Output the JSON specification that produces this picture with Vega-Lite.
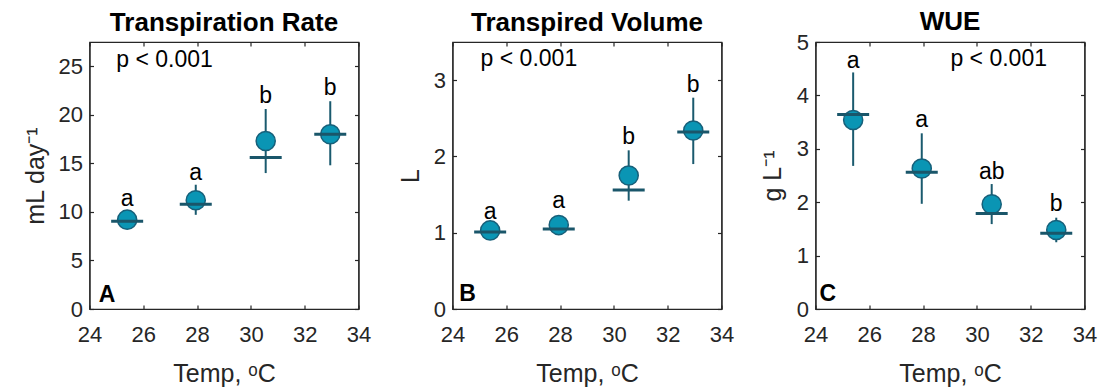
{
  "$schema": "https://vega.github.io/schema/vega-lite/v6.json",
  "background": "white",
  "padding": {"left": 21.5, "top": 8, "right": 0, "bottom": 0},
  "bounds": "flush",
  "spacing": 94,
  "datasets": {
    "pts": [
      {"panel": "A", "temp": 25.4, "mean": 9.2, "mid": 9.05, "lo": 8.4, "hi": 10.0, "letter": "a", "ly": 10.6},
      {"panel": "A", "temp": 27.95, "mean": 11.2, "mid": 10.8, "lo": 9.7, "hi": 12.8, "letter": "a", "ly": 13.3},
      {"panel": "A", "temp": 30.55, "mean": 17.3, "mid": 15.6, "lo": 14.0, "hi": 20.6, "letter": "b", "ly": 21.2},
      {"panel": "A", "temp": 32.95, "mean": 18.0, "mid": 18.0, "lo": 14.8, "hi": 21.4, "letter": "b", "ly": 22.0},
      {"panel": "B", "temp": 25.4, "mean": 1.03, "mid": 1.01, "lo": 0.92, "hi": 1.13, "letter": "a", "ly": 1.18},
      {"panel": "B", "temp": 27.95, "mean": 1.1, "mid": 1.05, "lo": 0.98, "hi": 1.22, "letter": "a", "ly": 1.33},
      {"panel": "B", "temp": 30.55, "mean": 1.75, "mid": 1.56, "lo": 1.42, "hi": 2.08, "letter": "b", "ly": 2.16},
      {"panel": "B", "temp": 32.95, "mean": 2.34, "mid": 2.32, "lo": 1.9, "hi": 2.77, "letter": "b", "ly": 2.85},
      {"panel": "C", "temp": 25.4, "mean": 3.54, "mid": 3.64, "lo": 2.68, "hi": 4.43, "letter": "a", "ly": 4.52},
      {"panel": "C", "temp": 27.95, "mean": 2.63, "mid": 2.56, "lo": 1.97, "hi": 3.29, "letter": "a", "ly": 3.4},
      {"panel": "C", "temp": 30.55, "mean": 1.96, "mid": 1.79, "lo": 1.59, "hi": 2.34, "letter": "ab", "ly": 2.44},
      {"panel": "C", "temp": 32.95, "mean": 1.48, "mid": 1.42, "lo": 1.25, "hi": 1.71, "letter": "b", "ly": 1.83}
    ],
    "notes": [
      {"panel": "A", "x": 26.79, "y": 24.9, "text": "p < 0.001", "kind": "p"},
      {"panel": "B", "x": 26.84, "y": 3.19, "text": "p < 0.001", "kind": "p"},
      {"panel": "C", "x": 30.81, "y": 4.556, "text": "p < 0.001", "kind": "p"},
      {"panel": "A", "x": 24.34, "y": 0.75, "text": "A", "kind": "panel"},
      {"panel": "B", "x": 24.25, "y": 0.105, "text": "B", "kind": "panel"},
      {"panel": "C", "x": 24.15, "y": 0.155, "text": "C", "kind": "panel"}
    ]
  },
  "hconcat": [
    {
      "width": 269, "height": 267,
      "title": {"text": "Transpiration Rate", "offset": 5.3},
      "data": {"name": "pts"},
      "transform": [{"filter": "datum.panel === 'A'"}],
      "resolve": {"axis": {"x": "independent", "y": "independent"}},
      "layer": [
        {
          "mark": {"type": "rule", "color": "#1a5a6e", "strokeWidth": 2},
          "encoding": {
            "x": {"field": "temp", "type": "quantitative", "scale": {"domain": [24, 34], "nice": false}, "axis": {"orient": "bottom", "values": [24, 26, 28, 30, 32, 34], "title": "Temp, ᵒC"}},
            "y": {"field": "lo", "type": "quantitative", "scale": {"domain": [0, 27.5], "nice": false}, "axis": {"orient": "left", "values": [0, 5, 10, 15, 20, 25], "title": "mL day⁻¹", "titleX": -46.5}},
            "y2": {"field": "hi"}
          }
        },
        {
          "mark": {"type": "point", "shape": "circle", "filled": true, "size": 365, "fill": "#0a95b4", "stroke": "#17607a", "strokeWidth": 1.5, "opacity": 1},
          "encoding": {
            "x": {"field": "temp", "type": "quantitative", "scale": {"domain": [24, 34], "nice": false}, "axis": {"orient": "top", "values": [24, 26, 28, 30, 32, 34], "labels": false, "title": null}},
            "y": {"field": "mean", "type": "quantitative", "scale": {"domain": [0, 27.5], "nice": false}, "axis": {"orient": "right", "values": [0, 5, 10, 15, 20, 25], "labels": false, "title": null}}
          }
        },
        {
          "mark": {"type": "tick", "orient": "horizontal", "size": 32, "thickness": 3, "color": "#1a566a", "opacity": 1},
          "encoding": {
            "x": {"field": "temp", "type": "quantitative", "scale": {"domain": [24, 34], "nice": false}, "axis": null},
            "y": {"field": "mid", "type": "quantitative", "scale": {"domain": [0, 27.5], "nice": false}, "axis": null}
          }
        },
        {
          "mark": {"type": "text", "fontSize": 23, "baseline": "alphabetic", "align": "center", "color": "#000000"},
          "encoding": {
            "x": {"field": "temp", "type": "quantitative", "scale": {"domain": [24, 34], "nice": false}, "axis": null},
            "y": {"field": "ly", "type": "quantitative", "scale": {"domain": [0, 27.5], "nice": false}, "axis": null},
            "text": {"field": "letter"}
          }
        },
        {
          "data": {"name": "notes"},
          "transform": [{"filter": "datum.panel === 'A' && datum.kind === 'p'"}],
          "mark": {"type": "text", "fontSize": 23, "baseline": "alphabetic", "align": "center", "color": "#000000"},
          "encoding": {
            "x": {"field": "x", "type": "quantitative", "scale": {"domain": [24, 34], "nice": false}, "axis": null},
            "y": {"field": "y", "type": "quantitative", "scale": {"domain": [0, 27.5], "nice": false}, "axis": null},
            "text": {"field": "text"}
          }
        },
        {
          "data": {"name": "notes"},
          "transform": [{"filter": "datum.panel === 'A' && datum.kind === 'panel'"}],
          "mark": {"type": "text", "fontSize": 23, "fontWeight": "bold", "baseline": "alphabetic", "align": "left", "color": "#000000"},
          "encoding": {
            "x": {"field": "x", "type": "quantitative", "scale": {"domain": [24, 34], "nice": false}, "axis": null},
            "y": {"field": "y", "type": "quantitative", "scale": {"domain": [0, 27.5], "nice": false}, "axis": null},
            "text": {"field": "text"}
          }
        }
      ]
    },
    {
      "width": 269, "height": 267,
      "title": {"text": "Transpired Volume", "offset": 5.3},
      "data": {"name": "pts"},
      "transform": [{"filter": "datum.panel === 'B'"}],
      "resolve": {"axis": {"x": "independent", "y": "independent"}},
      "layer": [
        {
          "mark": {"type": "rule", "color": "#1a5a6e", "strokeWidth": 2},
          "encoding": {
            "x": {"field": "temp", "type": "quantitative", "scale": {"domain": [24, 34], "nice": false}, "axis": {"orient": "bottom", "values": [24, 26, 28, 30, 32, 34], "title": "Temp, ᵒC"}},
            "y": {"field": "lo", "type": "quantitative", "scale": {"domain": [0, 3.5], "nice": false}, "axis": {"orient": "left", "values": [0, 1, 2, 3], "title": "L", "titleX": -34}},
            "y2": {"field": "hi"}
          }
        },
        {
          "mark": {"type": "point", "shape": "circle", "filled": true, "size": 365, "fill": "#0a95b4", "stroke": "#17607a", "strokeWidth": 1.5, "opacity": 1},
          "encoding": {
            "x": {"field": "temp", "type": "quantitative", "scale": {"domain": [24, 34], "nice": false}, "axis": {"orient": "top", "values": [24, 26, 28, 30, 32, 34], "labels": false, "title": null}},
            "y": {"field": "mean", "type": "quantitative", "scale": {"domain": [0, 3.5], "nice": false}, "axis": {"orient": "right", "values": [0, 1, 2, 3], "labels": false, "title": null}}
          }
        },
        {
          "mark": {"type": "tick", "orient": "horizontal", "size": 32, "thickness": 3, "color": "#1a566a", "opacity": 1},
          "encoding": {
            "x": {"field": "temp", "type": "quantitative", "scale": {"domain": [24, 34], "nice": false}, "axis": null},
            "y": {"field": "mid", "type": "quantitative", "scale": {"domain": [0, 3.5], "nice": false}, "axis": null}
          }
        },
        {
          "mark": {"type": "text", "fontSize": 23, "baseline": "alphabetic", "align": "center", "color": "#000000"},
          "encoding": {
            "x": {"field": "temp", "type": "quantitative", "scale": {"domain": [24, 34], "nice": false}, "axis": null},
            "y": {"field": "ly", "type": "quantitative", "scale": {"domain": [0, 3.5], "nice": false}, "axis": null},
            "text": {"field": "letter"}
          }
        },
        {
          "data": {"name": "notes"},
          "transform": [{"filter": "datum.panel === 'B' && datum.kind === 'p'"}],
          "mark": {"type": "text", "fontSize": 23, "baseline": "alphabetic", "align": "center", "color": "#000000"},
          "encoding": {
            "x": {"field": "x", "type": "quantitative", "scale": {"domain": [24, 34], "nice": false}, "axis": null},
            "y": {"field": "y", "type": "quantitative", "scale": {"domain": [0, 3.5], "nice": false}, "axis": null},
            "text": {"field": "text"}
          }
        },
        {
          "data": {"name": "notes"},
          "transform": [{"filter": "datum.panel === 'B' && datum.kind === 'panel'"}],
          "mark": {"type": "text", "fontSize": 23, "fontWeight": "bold", "baseline": "alphabetic", "align": "left", "color": "#000000"},
          "encoding": {
            "x": {"field": "x", "type": "quantitative", "scale": {"domain": [24, 34], "nice": false}, "axis": null},
            "y": {"field": "y", "type": "quantitative", "scale": {"domain": [0, 3.5], "nice": false}, "axis": null},
            "text": {"field": "text"}
          }
        }
      ]
    },
    {
      "width": 269, "height": 267,
      "title": {"text": "WUE", "offset": -3.7},
      "data": {"name": "pts"},
      "transform": [{"filter": "datum.panel === 'C'"}],
      "resolve": {"axis": {"x": "independent", "y": "independent"}},
      "layer": [
        {
          "mark": {"type": "rule", "color": "#1a5a6e", "strokeWidth": 2},
          "encoding": {
            "x": {"field": "temp", "type": "quantitative", "scale": {"domain": [24, 34], "nice": false}, "axis": {"orient": "bottom", "values": [24, 26, 28, 30, 32, 34], "title": "Temp, ᵒC"}},
            "y": {"field": "lo", "type": "quantitative", "scale": {"domain": [0, 5], "nice": false}, "axis": {"orient": "left", "values": [0, 1, 2, 3, 4, 5], "title": "g L⁻¹", "titleX": -35}},
            "y2": {"field": "hi"}
          }
        },
        {
          "mark": {"type": "point", "shape": "circle", "filled": true, "size": 365, "fill": "#0a95b4", "stroke": "#17607a", "strokeWidth": 1.5, "opacity": 1},
          "encoding": {
            "x": {"field": "temp", "type": "quantitative", "scale": {"domain": [24, 34], "nice": false}, "axis": {"orient": "top", "values": [24, 26, 28, 30, 32, 34], "labels": false, "title": null}},
            "y": {"field": "mean", "type": "quantitative", "scale": {"domain": [0, 5], "nice": false}, "axis": {"orient": "right", "values": [0, 1, 2, 3, 4, 5], "labels": false, "title": null}}
          }
        },
        {
          "mark": {"type": "tick", "orient": "horizontal", "size": 32, "thickness": 3, "color": "#1a566a", "opacity": 1},
          "encoding": {
            "x": {"field": "temp", "type": "quantitative", "scale": {"domain": [24, 34], "nice": false}, "axis": null},
            "y": {"field": "mid", "type": "quantitative", "scale": {"domain": [0, 5], "nice": false}, "axis": null}
          }
        },
        {
          "mark": {"type": "text", "fontSize": 23, "baseline": "alphabetic", "align": "center", "color": "#000000"},
          "encoding": {
            "x": {"field": "temp", "type": "quantitative", "scale": {"domain": [24, 34], "nice": false}, "axis": null},
            "y": {"field": "ly", "type": "quantitative", "scale": {"domain": [0, 5], "nice": false}, "axis": null},
            "text": {"field": "letter"}
          }
        },
        {
          "data": {"name": "notes"},
          "transform": [{"filter": "datum.panel === 'C' && datum.kind === 'p'"}],
          "mark": {"type": "text", "fontSize": 23, "baseline": "alphabetic", "align": "center", "color": "#000000"},
          "encoding": {
            "x": {"field": "x", "type": "quantitative", "scale": {"domain": [24, 34], "nice": false}, "axis": null},
            "y": {"field": "y", "type": "quantitative", "scale": {"domain": [0, 5], "nice": false}, "axis": null},
            "text": {"field": "text"}
          }
        },
        {
          "data": {"name": "notes"},
          "transform": [{"filter": "datum.panel === 'C' && datum.kind === 'panel'"}],
          "mark": {"type": "text", "fontSize": 23, "fontWeight": "bold", "baseline": "alphabetic", "align": "left", "color": "#000000"},
          "encoding": {
            "x": {"field": "x", "type": "quantitative", "scale": {"domain": [24, 34], "nice": false}, "axis": null},
            "y": {"field": "y", "type": "quantitative", "scale": {"domain": [0, 5], "nice": false}, "axis": null},
            "text": {"field": "text"}
          }
        }
      ]
    }
  ],
  "config": {
    "font": "Liberation Sans",
    "view": {"stroke": "#262626", "strokeWidth": 1.2},
    "axis": {
      "grid": false,
      "domainColor": "#262626",
      "domainWidth": 1.2,
      "tickColor": "#262626",
      "tickWidth": 1.2,
      "tickSize": -4,
      "labelFont": "Liberation Sans",
      "labelFontSize": 22,
      "labelColor": "#262626",
      "titleFont": "Liberation Sans",
      "titleFontSize": 25,
      "titleFontWeight": "normal",
      "titleColor": "#262626",
      "labelFlush": false,
      "labelOverlap": false
    },
    "axisBottom": {"labelPadding": 19, "titleY": 72, "titleBaseline": "alphabetic"},
    "axisLeft": {"labelPadding": 11, "titleBaseline": "alphabetic"},
    "title": {"font": "Liberation Sans", "fontSize": 26, "fontWeight": "bold", "color": "#000000", "baseline": "alphabetic", "frame": "group", "anchor": "middle"}
  }
}
